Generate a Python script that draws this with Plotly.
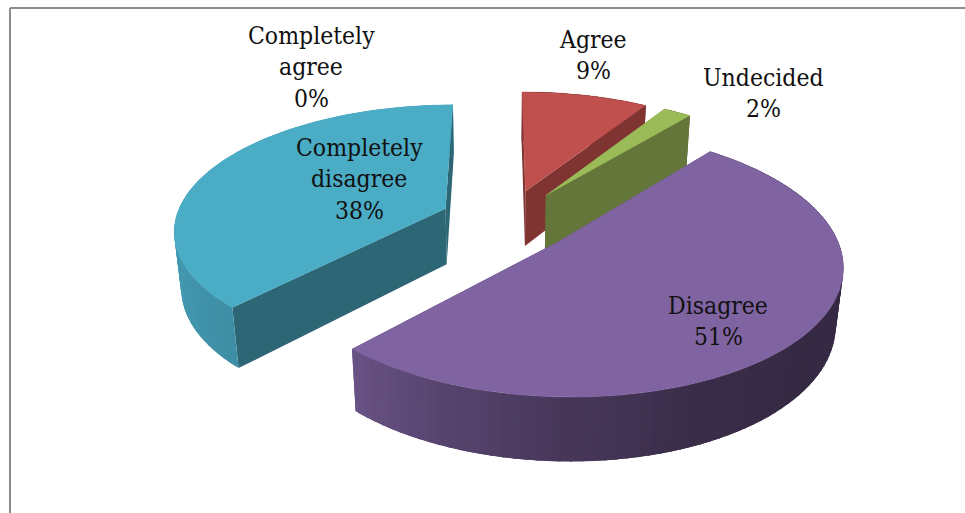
import numpy as np
import plotly.graph_objects as go

# --- data ---
categories = ["Completely agree", "Agree", "Undecided", "Disagree", "Completely disagree"]
percent = [0, 9, 2, 51, 38]
label_lines = [["Completely", "agree"], ["Agree"], ["Undecided"], ["Disagree"], ["Completely", "disagree"]]

# --- styles ---
top_colors = ["#F79646", "#C0504D", "#9BBB59", "#8064A2", "#4BACC6"]
side_colors = ["#A5642F", "#7F3432", "#64763A", "#53406B", "#2D6776"]
label_centers = [(311, 35), (593, 39), (763, 77), (718, 305), (359, 147)]
LINE_GAP = 31.5
FONT = dict(family="DejaVu Serif Condensed, DejaVu Serif", size=24.5, color="#111111")

# --- projection of a 3D exploded pie ---
CX, HORIZON, PLANE = 499.5, -550.0, 800.0
A, K = 281.0, 0.167
DEPTH_W, DEPTH_H = 0.0224, 77.0
CENTER = (0.03, 0.235)
EXPLODE = 0.25


def project(X, Y, z):
    X, Y = np.asarray(X, float), np.asarray(Y, float)
    s = 1.0 / (1.0 + K * Y + z * DEPTH_W)
    return CX + A * X * s, HORIZON + (PLANE + DEPTH_H * z) * s


def shade(color, f):
    r, g, b = (int(color[i:i + 2], 16) for i in (1, 3, 5))
    return f"rgb({r * f:.0f},{g * f:.0f},{b * f:.0f})"


def wall_factor(theta):
    return np.interp(theta, [90, 130, 160, 180, 205, 223, 270, 360],
                     [0.42, 0.41, 0.45, 0.55, 0.70, 0.83, 0.93, 0.93])


def poly(xs, ys, color, width=0.0):
    return go.Scatter(x=list(xs), y=list(ys), mode="lines", fill="toself",
                      fillcolor=color, line=dict(color=color, width=width),
                      hoverinfo="skip", showlegend=False)


total = sum(percent)
edges = np.cumsum([0] + percent) / total * 360.0

slices = []
for i, p in enumerate(percent):
    if p == 0:
        continue
    a0, a1 = edges[i], edges[i + 1]
    mid = np.radians((a0 + a1) / 2)
    ox = CENTER[0] + EXPLODE * np.sin(mid)
    oy = CENTER[1] + EXPLODE * np.cos(mid)
    slices.append((oy, i, a0, a1, ox))

fig = go.Figure()
for oy, i, a0, a1, ox in sorted(slices, key=lambda t: -t[0]):
    n = max(4, int((a1 - a0) / 2))
    th = np.linspace(a0, a1, n + 1)
    step = th[1] - th[0]

    faces = []
    for j in range(n):
        # each band overlaps its neighbours so no seam shows between them
        arc = np.radians(np.linspace(max(a0, th[j] - step * 0.6), min(a1, th[j + 1] + step * 0.6), 5))
        qx = ox + np.sin(arc)
        qy = oy + np.cos(arc)
        tx, ty = project(qx, qy, 0)
        bx, by = project(qx[::-1], qy[::-1], 1)
        col = shade(top_colors[i], wall_factor((th[j] + th[j + 1]) / 2))
        faces.append((np.mean(qy), np.r_[tx, bx], np.r_[ty, by], col))
    for ang in (a0, a1):
        e = np.radians(ang)
        qx = [ox, ox + np.sin(e)]
        qy = [oy, oy + np.cos(e)]
        tx, ty = project(qx, qy, 0)
        bx, by = project(qx[::-1], qy[::-1], 1)
        faces.append((np.mean(qy), np.r_[tx, bx], np.r_[ty, by], side_colors[i]))
    for _, fx, fy, col in sorted(faces, key=lambda f: -f[0]):
        fig.add_trace(poly(fx, fy, col))

    arc = np.radians(np.linspace(a0, a1, int(a1 - a0) + 2))
    tx, ty = project(np.r_[ox, ox + np.sin(arc)], np.r_[oy, oy + np.cos(arc)], 0)
    fig.add_trace(poly(tx, ty, top_colors[i], width=0.4))

for lines, p, (cx, cy) in zip(label_lines, percent, label_centers):
    for n, text in enumerate(lines + [f"{p}%"]):
        fig.add_annotation(x=cx, y=cy + n * LINE_GAP, text=text, showarrow=False,
                           xanchor="center", yanchor="middle", font=FONT)

FRAME = dict(color="#8C8C8C", width=2)
fig.add_shape(type="line", x0=10, x1=965, y0=8, y1=8, line=FRAME)
fig.add_shape(type="line", x0=10, x1=10, y0=8, y1=513, line=FRAME)

fig.update_layout(width=965, height=513, margin=dict(l=0, r=0, t=0, b=0),
                  paper_bgcolor="white", plot_bgcolor="white", showlegend=False,
                  xaxis=dict(range=[0, 965], visible=False),
                  yaxis=dict(range=[513, 0], visible=False))
fig.write_html("out.html", config=dict(displayModeBar=False),
               post_script="document.body.style.margin='0';document.documentElement.style.overflow='hidden';")
